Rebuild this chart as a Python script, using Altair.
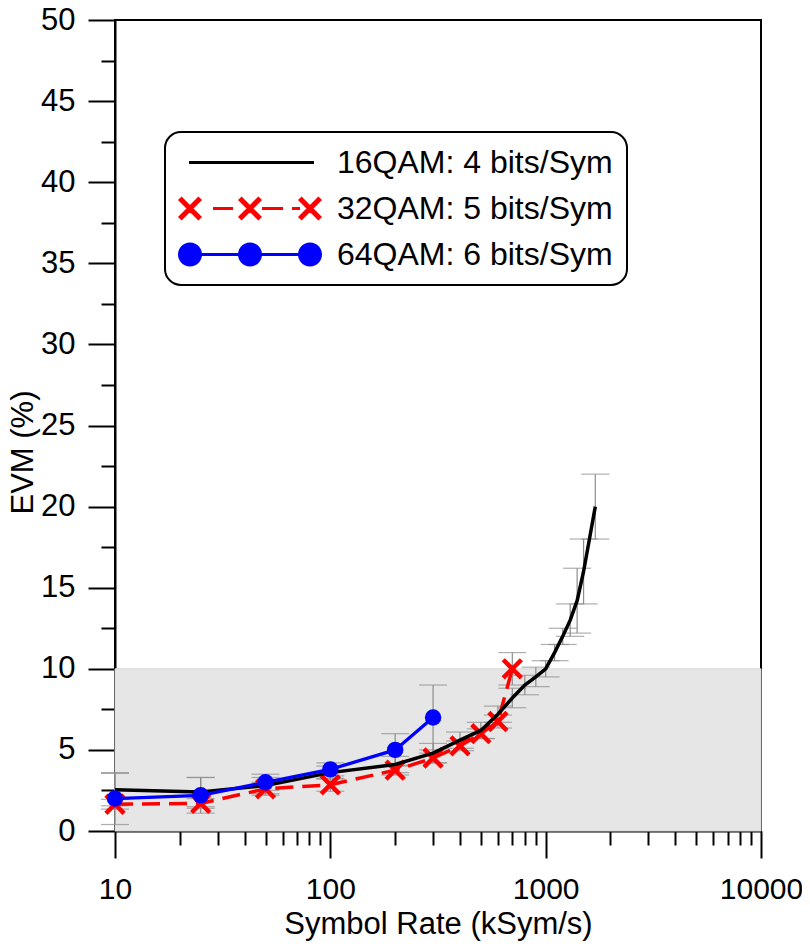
import math
import altair as alt
import pandas as pd

# ---------------- data ----------------
names = ["16QAM: 4 bits/Sym", "32QAM: 5 bits/Sym", "64QAM: 6 bits/Sym"]
colors = ["black", "red", "blue"]

x16 = [10, 25, 50, 100, 200, 300, 400, 500, 600, 700, 800, 900, 1000, 1100, 1200, 1300, 1400, 1500, 1700]
y16 = [2.55, 2.4, 2.8, 3.6, 4.1, 4.8, 5.6, 6.2, 7.2, 8.2, 9.0, 9.5, 10.0, 11.0, 12.0, 13.0, 14.2, 16.0, 20.0]
e16 = [1.0, 0.9, 0.5, 0.4, 0.5, 0.6, 0.5, 0.5, 0.5, 0.6, 0.6, 0.6, 0.5, 0.5, 0.5, 1.0, 2.0, 2.0, 2.0]

x32 = [10, 25, 50, 100, 200, 300, 400, 500, 600, 700]
y32 = [1.65, 1.7, 2.6, 2.85, 3.75, 4.5, 5.25, 6.0, 6.75, 10.0]
e32 = [0.3, 0.3, 0.4, 0.4, 0.3, 0.3, 0.3, 0.3, 0.4, 1.0]

x64 = [10, 25, 50, 100, 200, 300]
y64 = [2.0, 2.2, 3.0, 3.8, 5.0, 7.0]
e64 = [1.6, 1.1, 0.5, 0.4, 1.0, 2.0]

band_x = [10, 10000]
band_y = [0, 10]

x_major = [10, 100, 1000, 10000]
x_ticks = [d * k for d in [10, 100, 1000] for k in range(1, 10)] + [10000]
y_ticks = [i * 2.5 for i in range(21)]

# ---------------- helpers ----------------
FONT = "Liberation Sans"
W, H = 646, 811
PAD_L, PAD_T = 107, 12


def frame(xs, ys, es):
    return pd.DataFrame({"x": xs, "y": ys,
                         "lo": [a - b for a, b in zip(ys, es)],
                         "hi": [a + b for a, b in zip(ys, es)]})


df16, df32, df64 = frame(x16, y16, e16), frame(x32, y32, e32), frame(x64, y64, e64)
band_df = pd.DataFrame({"x": [band_x[0]], "x2": [band_x[1]], "y": [band_y[0]], "y2": [band_y[1]]})

major_test = "indexof([10,100,1000,10000], datum.value) >= 0"
x_axis = alt.Axis(
    title="Symbol Rate (kSym/s)", values=x_ticks, format="d",
    labelExpr=f"{major_test} ? datum.label : ''",
    tickSize=alt.ExprRef(expr=f"{major_test} ? 27 : 14"),
    labelFlush=False, labelOverlap=False, grid=False,
    labelPadding=16, labelFontSize=30, titleFontSize=31,
    titleY=102, titleBaseline="alphabetic",
)
y_axis = alt.Axis(
    title="EVM (%)", values=y_ticks, format="d",
    labelExpr="datum.value % 5 == 0 ? datum.label : ''",
    tickSize=alt.ExprRef(expr="datum.value % 5 == 0 ? 27 : 14"),
    labelFlush=False, labelOverlap=False, grid=False,
    labelPadding=13, labelFontSize=31, titleFontSize=31,
    titleX=-83, titleY=432, titleBaseline="alphabetic", titleAngle=270, titleAlign="center",
)
xs = alt.Scale(type="log", domain=[10, 10000], nice=False)
ys = alt.Scale(domain=[0, 50], nice=False, zero=False)
X = alt.X("x:Q", scale=xs, axis=x_axis)
Y = alt.Y("y:Q", scale=ys, axis=y_axis)
Ylo = alt.Y("lo:Q", scale=ys, axis=y_axis)

band = alt.Chart(band_df).mark_rect(color="#e6e6e6", stroke="#d8d8d8", strokeWidth=1).encode(
    x=X, x2="x2:Q", y=Y, y2="y2:Q")


def errs(df):
    return alt.Chart(df).mark_errorbar(ticks=True, size=28, thickness=1.2, color="#8c8c8c").encode(
        x=X, y=Ylo, y2="hi:Q")


cross = "M-1,-1L1,1M-1,1L1,-1"
line32 = alt.Chart(df32).mark_line(color="red", strokeWidth=3.5, strokeDash=[18, 9]).encode(x=X, y=Y)
pts32 = alt.Chart(df32).mark_point(shape=cross, size=330, color="red", strokeWidth=4.5,
                                   filled=False, opacity=1).encode(x=X, y=Y)
line16 = alt.Chart(df16).mark_line(color="black", strokeWidth=3.5).encode(x=X, y=Y)
line64 = alt.Chart(df64).mark_line(color="blue", strokeWidth=3.3).encode(x=X, y=Y)
pts64 = alt.Chart(df64).mark_circle(size=270, color="blue", opacity=1).encode(x=X, y=Y)

# ---------------- legend symbols (custom SVG paths) ----------------
SYM = 30.0            # sqrt(symbolSize)
UNIT = SYM / 2.0      # pixels per path unit
CENTER = 165 + 14 + (SYM + 3) / 2.0  # approx page x of symbol centre


def u(px):
    return (px - CENTER) / UNIT


def fmt(x, y):
    return f"{x:.3f},{y:.3f}"


def x_poly(cx, a=0.66, d=0.1):
    pts = [(0, -d), (a - d, -a), (a, -a + d), (d, 0), (a, a - d), (a - d, a),
           (0, d), (-a + d, a), (-a, a - d), (-d, 0), (-a, -a + d), (-a + d, -a)]
    return "M" + "L".join(fmt(cx + px, py) for px, py in pts) + "Z"


def circ(cx, r=0.7, n=28):
    pts = [(cx + r * math.cos(2 * math.pi * i / n), r * math.sin(2 * math.pi * i / n)) for i in range(n)]
    return "M" + "L".join(fmt(a, b) for a, b in pts) + "Z"


mk = [190, 250, 310]
p16 = "M" + fmt(u(189), 0) + "L" + fmt(u(314), 0)
p32 = "".join("M" + fmt(u(a), 0) + "L" + fmt(u(b), 0) for a, b in [(213, 233), (262, 283), (292, 300)])
p32 += "".join(x_poly(u(m)) for m in mk)
p64 = "M" + fmt(u(190), 0) + "L" + fmt(u(310), 0) + "".join(circ(u(m)) for m in mk)
paths = [p16, p32, p64]

leg = alt.Legend(title=None, orient="none", legendX=50, legendY=112,
                 labelFont=FONT, labelFontSize=32, labelColor="black", labelLimit=0,
                 symbolSize=SYM * SYM, symbolStrokeWidth=3, labelOffset=125,
                 padding=14, rowPadding=13, strokeColor="black", cornerRadius=16,
                 fillColor="white")

leg_df = pd.DataFrame({"x": [10, 10, 10], "y": [0, 0, 0], "series": names})
legend_layer = alt.Chart(leg_df).transform_filter("false").mark_point(filled=True, opacity=1).encode(
    x=X, y=Y,
    fill=alt.Fill("series:N", scale=alt.Scale(domain=names, range=colors), legend=leg),
    stroke=alt.Stroke("series:N", scale=alt.Scale(domain=names, range=colors), legend=leg),
    shape=alt.Shape("series:N", scale=alt.Scale(domain=names, range=paths), legend=leg),
)

chart = alt.layer(
    band, errs(df16), errs(df32), errs(df64),
    line32, pts32, line16, line64, pts64, legend_layer,
).properties(
    width=W, height=H,
    autosize=alt.AutoSizeParams(type="none"),
    padding={"left": PAD_L, "top": PAD_T, "right": 794 - PAD_L - W, "bottom": 933 - PAD_T - H},
).configure_view(
    stroke="black", strokeWidth=2
).configure_axis(
    labelFont=FONT, titleFont=FONT,
    titleFontWeight="normal", labelColor="black", titleColor="black",
    domainColor="black", domainWidth=2, tickColor="black", tickWidth=2,
).configure_legend(
    strokeWidth=2
)

chart.save("out.html", embed_options={"renderer": "svg", "actions": False})
